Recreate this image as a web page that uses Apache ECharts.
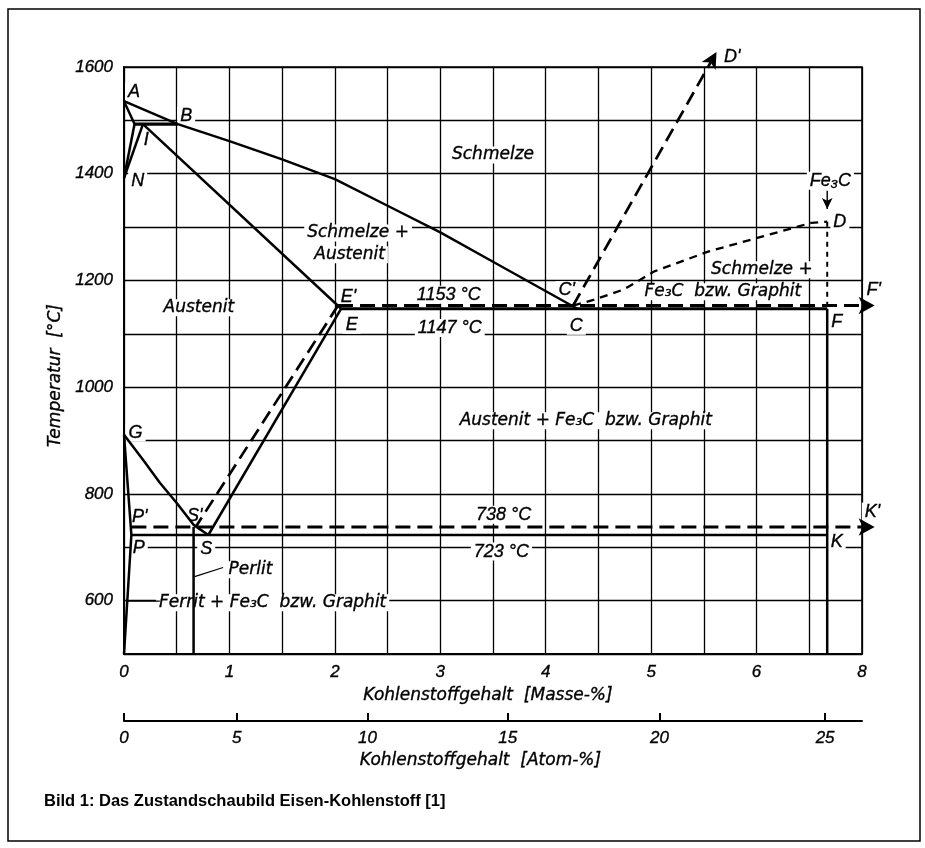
<!DOCTYPE html>
<html><head><meta charset="utf-8">
<script src="https://cdn.jsdelivr.net/npm/echarts@6/dist/echarts.min.js"></script>
<style>html,body{margin:0;padding:0;background:#fff}#c{width:925px;height:848px}</style>
</head><body><div id="c"></div>
<script>
// ---------- data ----------
const massTicks = [0, 1, 2, 3, 4, 5, 6, 7];
const massTickLabels = ['0', '1', '2', '3', '4', '5', '6', '8'];
const tempTicks = [600, 800, 1000, 1200, 1400, 1600];
const atomTickLabels = ['0', '5', '10', '15', '20', '25'];
const atomTickMass = [0, 1.07, 2.31, 3.64, 5.08, 6.65];

const liquidusABC = [[0, 1536], [0.51, 1493], [1.0, 1461], [1.5, 1427], [2.0, 1390], [2.5, 1340], [3.0, 1290], [3.5, 1235], [4.3, 1147]];
const lineAH = [[0, 1536], [0.1, 1493]];
const lineHB = [[0.1, 1493], [0.51, 1493]];
const lineHN = [[0.1, 1493], [0, 1392]];
const lineJN = [[0.18, 1493], [0, 1392]];
const solidusJE = [[0.18, 1493], [2.06, 1147]];
const lineEF = [[2.06, 1147], [6.67, 1147]];
const lineES = [[2.06, 1147], [0.8, 723]];
const lineGS = [[0, 911], [0.18, 864], [0.34, 821], [0.5, 783], [0.66, 742], [0.8, 723]];
const lineGPQ = [[0, 911], [0.07, 723], [0, 500]];
const linePK = [[0.07, 723], [6.67, 723]];
const linePerlit = [[0.66, 738], [0.66, 500]];
const lineFe3C = [[6.67, 1147], [6.67, 500]];
const dashedES = [[2.03, 1153], [0.68, 738]];
const dashedEF = [[2.03, 1153], [7.12, 1153]];
const dashedPK = [[0.07, 738], [7.12, 738]];
const dashedCD = [[4.26, 1153], [4.46, 1164], [4.74, 1183], [5.03, 1217], [5.54, 1254], [6.05, 1282], [6.52, 1308], [6.67, 1310]];
const dashedCDprime = [[4.26, 1153], [5.62, 1628]];
const dottedDF = [[6.67, 1310], [6.67, 1153]];
const arrowFe3C = [[6.67, 1368], [6.67, 1334]];
const leaderPerlit = [[0.67, 645], [0.94, 662]];
const leaderFerrit = [[0.03, 599], [0.34, 599]];

const labelsAnn = [
  ['A', 0.095, 1554], ['B', 0.59, 1508], ['I', 0.21, 1463], ['N', 0.13, 1387],
  ['Schmelze', 3.5, 1435], ['Schmelze +', 2.22, 1289], ['Austenit', 2.14, 1248],
  ['Austenit', 0.71, 1149], ["E'", 2.13, 1169], ['E', 2.16, 1117],
  ['1153 °C', 3.08, 1173], ['1147 °C', 3.09, 1111], ["C'", 4.2, 1182], ['C', 4.29, 1115],
  ['Schmelze +', 6.05, 1220], ['Fe₃C  bzw. Graphit', 5.68, 1179], ["F'", 7.11, 1182], ['F', 6.76, 1122],
  ['D', 6.79, 1310], ['Fe₃C', 6.7, 1387], ["D'", 5.77, 1619],
  ['Austenit + Fe₃C  bzw. Graphit', 4.38, 937],
  ['G', 0.11, 915], ["S'", 0.67, 759], ["P'", 0.15, 757], ['P', 0.14, 699], ['S', 0.78, 696],
  ['738 °C', 3.6, 761], ['723 °C', 3.58, 692], ["K'", 7.1, 767], ['K', 6.76, 709],
  ['Perlit', 1.2, 658], ['Ferrit + Fe₃C  bzw. Graphit', 1.41, 596]
];

// ---------- chart ----------
const FONT = 'Liberation Sans';
const WFONT = 'DejaVu Sans';
const chart = echarts.init(document.getElementById('c'));

function ln(data, width, dash, extra) {
  return Object.assign({
    type: 'line', data: data, symbol: 'none', showSymbol: true, clip: false, z: 4,
    silent: true, animation: false,
    lineStyle: { color: '#000', width: width, type: dash || 'solid', cap: 'butt', opacity: 1 },
    itemStyle: { color: '#000', opacity: 1 }
  }, extra || {});
}
function withArrow(data, size, rot) {
  const d = data.map(p => p.slice());
  const last = d.pop();
  return d.concat([{ value: last, symbol: 'arrow', symbolSize: size, symbolRotate: rot }]);
}

const solidLines = [liquidusABC, lineAH, lineHN, lineJN, solidusJE, lineES, lineGS, lineGPQ, linePerlit, lineFe3C];
const series = [];
solidLines.forEach(d => series.push(ln(d, 2.5)));
series.push(ln(lineHB, 3.4));
series.push(ln(lineEF, 2.8));
series.push(ln(linePK, 2.5));
series.push(ln(dashedES, 2.7, [14, 7]));
series.push(ln(withArrow(dashedEF, [13, 16], -90), 2.9, [15, 7]));
series.push(ln(withArrow(dashedPK, [13, 16], -90), 2.9, [15, 7]));
series.push(ln(dashedCD, 2.3, [8, 6]));
series.push(ln(withArrow(dashedCDprime, [12, 16], 0), 2.7, [14, 7], { id: 'cdp' }));
series.push(ln(dottedDF, 2.0, [5, 5]));
series.push(ln(withArrow(arrowFe3C, [8, 11], 180), 1.4));
series.push(ln(leaderPerlit, 1.2));
series.push(ln(leaderFerrit, 1.2));

const txtBold = { textBorderColor: '#000', textBorderWidth: 0.35 };
const isWord = s => /[a-z]{3,}/.test(s);

series.push({
  type: 'scatter', z: 3, clip: false, silent: true, animation: false,
  symbolSize: 0,
  itemStyle: { opacity: 1, color: '#000' },
  data: labelsAnn.map(a => ({
    name: a[0], value: [a[1], a[2]],
    label: isWord(a[0]) ? { fontFamily: WFONT, fontSize: 17 } : { fontFamily: FONT, fontSize: 18 }
  })),
  label: Object.assign({
    show: true, position: [0, 0], align: 'center', verticalAlign: 'middle',
    formatter: '{b}', fontStyle: 'italic', color: '#000',
    backgroundColor: '#fff', padding: [0, 3], opacity: 1
  }, txtBold)
});

const axisText = Object.assign({ fontFamily: FONT, fontStyle: 'italic', fontSize: 17, color: '#000' }, txtBold);
const nameText = Object.assign({ fontFamily: WFONT, fontStyle: 'italic', fontSize: 17, color: '#000' }, txtBold);

chart.setOption({
  animation: false,
  backgroundColor: '#fff',
  title: {
    text: 'Bild 1: Das Zustandschaubild Eisen-Kohlenstoff [1]',
    left: 39, top: 788,
    textStyle: { fontFamily: FONT, fontWeight: 'bold', fontSize: 16.5, color: '#000' }
  },
  grid: { left: 124, top: 67, width: 738, height: 587, show: true, borderColor: '#000', borderWidth: 1.6, backgroundColor: 'transparent' },
  xAxis: [{
    type: 'value', min: 0, max: 7, interval: 0.5,
    axisLine: { show: true, lineStyle: { color: '#000', width: 2 } },
    axisTick: { show: false },
    splitLine: { show: true, lineStyle: { color: '#000', width: 1.3 } },
    axisLabel: Object.assign({
      customValues: massTicks, margin: 10,
      formatter: v => massTickLabels[massTicks.indexOf(v)]
    }, axisText),
    name: 'Kohlenstoffgehalt  [Masse-%]', nameLocation: 'middle', nameGap: 33,
    nameTextStyle: Object.assign({ padding: [0, 10, 0, 0] }, nameText)
  }, {
    type: 'value', min: 0, max: 7, position: 'bottom', offset: 67,
    axisLine: { show: true, onZero: false, lineStyle: { color: '#000', width: 2 } },
    axisTick: { show: true, inside: true, length: 8, customValues: atomTickMass, lineStyle: { color: '#000', width: 2 } },
    splitLine: { show: false },
    axisLabel: Object.assign({
      customValues: atomTickMass, margin: 9,
      formatter: v => atomTickLabels[atomTickMass.indexOf(v)]
    }, axisText),
    name: 'Kohlenstoffgehalt  [Atom-%]', nameLocation: 'middle', nameGap: 29,
    nameTextStyle: Object.assign({ padding: [0, 25, 0, 0] }, nameText)
  }],
  yAxis: {
    type: 'value', min: 500, max: 1600, interval: 100,
    axisLine: { show: true, lineStyle: { color: '#000', width: 2 } },
    axisTick: { show: false },
    splitLine: { show: true, lineStyle: { color: '#000', width: 1.3 } },
    axisLabel: Object.assign({ customValues: tempTicks, margin: 11, formatter: v => String(v) }, axisText),
    name: 'Temperatur  [°C]', nameLocation: 'middle', nameGap: 50,
    nameTextStyle: Object.assign({ padding: [0, 30, 0, 0] }, nameText)
  },
  graphic: [{
    type: 'rect', shape: { x: 8, y: 9, width: 912, height: 832 },
    style: { fill: 'none', stroke: '#000', lineWidth: 1.5 }, silent: true, z: 0
  }],
  series: series
});

// orient the D' arrow along its line (pixel space)
const p0 = chart.convertToPixel({ gridIndex: 0 }, dashedCDprime[0]);
const p1 = chart.convertToPixel({ gridIndex: 0 }, dashedCDprime[1]);
const ang = Math.atan2(p1[0] - p0[0], p0[1] - p1[1]) * 180 / Math.PI;
chart.setOption({ series: [{ id: 'cdp', data: withArrow(dashedCDprime, [12, 16], -ang) }] });
</script>
</body></html>
